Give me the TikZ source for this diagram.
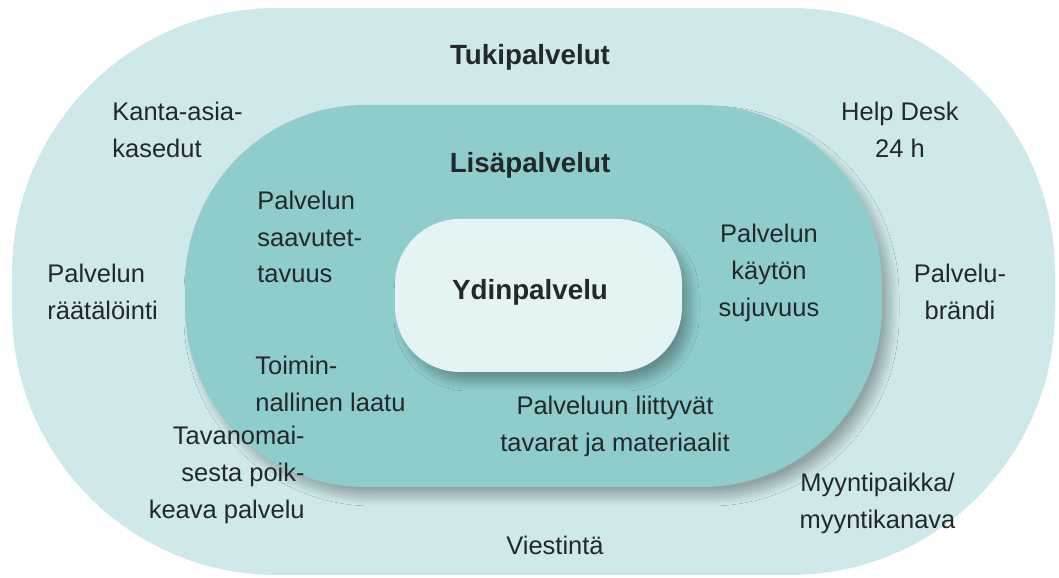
\documentclass[tikz,border=0pt]{standalone}
\usepackage{fontspec}
\setmainfont{Liberation Sans}
\usetikzlibrary{shadows.blur}

\definecolor{outerteal}{HTML}{CFE9EA}
\definecolor{midteal}{HTML}{8FCDCD}
\definecolor{coreteal}{HTML}{E4F3F3}
\definecolor{txtgray}{HTML}{232828}

\tikzset{
  lbl/.style={inner sep=0pt, text=txtgray, align=center, font=\fontsize{14.5}{21}\selectfont},
  hd/.style={lbl, font=\fontsize{15.8}{21}\selectfont\bfseries},
  softshadow/.style={blur shadow={shadow xshift=0.16cm, shadow yshift=-0.2cm, shadow blur radius=0.18cm, shadow blur steps=24, shadow opacity=30}}
}

\begin{document}
\begin{tikzpicture}
\useasboundingbox (0,0) rectangle (21.18,11.56);

% three layers
\fill[outerteal, rounded corners=5.3cm] (0.24,0.06) rectangle (21.1,11.4);
\fill[midteal, rounded corners=3.6cm, softshadow] (3.7,1.82) rectangle (17.64,9.46);
\fill[coreteal, rounded corners=1.3cm, softshadow] (7.9,4.12) rectangle (13.64,7.18);

% headings
\node[hd] (tuki) at (10.6,10.42) {Tukipalvelut};
\node[hd] (lisa) at (10.6,8.26) {Lisäpalvelut};
\node[hd] (ydin) at (10.6,5.72) {Ydinpalvelu};

% outer ring
\node[lbl, anchor=west, align=left] (kanta) at (2.24,8.96) {Kanta-asia-\\kasedut};
\node[lbl] (help) at (18.0,8.96) {Help Desk\\24 h};
\node[lbl, anchor=west, align=left] (raata) at (0.94,5.72) {Palvelun\\räätälöinti};
\node[lbl] (brandi) at (19.2,5.73) {Palvelu-\\brändi};
\node[lbl, anchor=east, align=right] (tavan) at (6.1,2.06) {Tavanomai-\\sesta poik-\\keava palvelu};
\node[lbl] (myynti) at (17.55,1.49) {Myyntipaikka/\\myyntikanava};
\node[lbl] (viesti) at (11.1,0.66) {Viestintä};

% middle ring
\node[lbl, anchor=west, align=left] (saavu) at (5.14,6.82) {Palvelun\\saavutet-\\tavuus};
\node[lbl] (sujuv) at (15.38,6.1) {Palvelun\\käytön\\sujuvuus};
\node[lbl, anchor=west, align=left] (toimin) at (5.1,3.89) {Toimin-\\nallinen laatu};
\node[lbl] (tavarat) at (12.3,3.04) {Palveluun liittyvät\\tavarat ja materiaalit};
\end{tikzpicture}
\end{document}
